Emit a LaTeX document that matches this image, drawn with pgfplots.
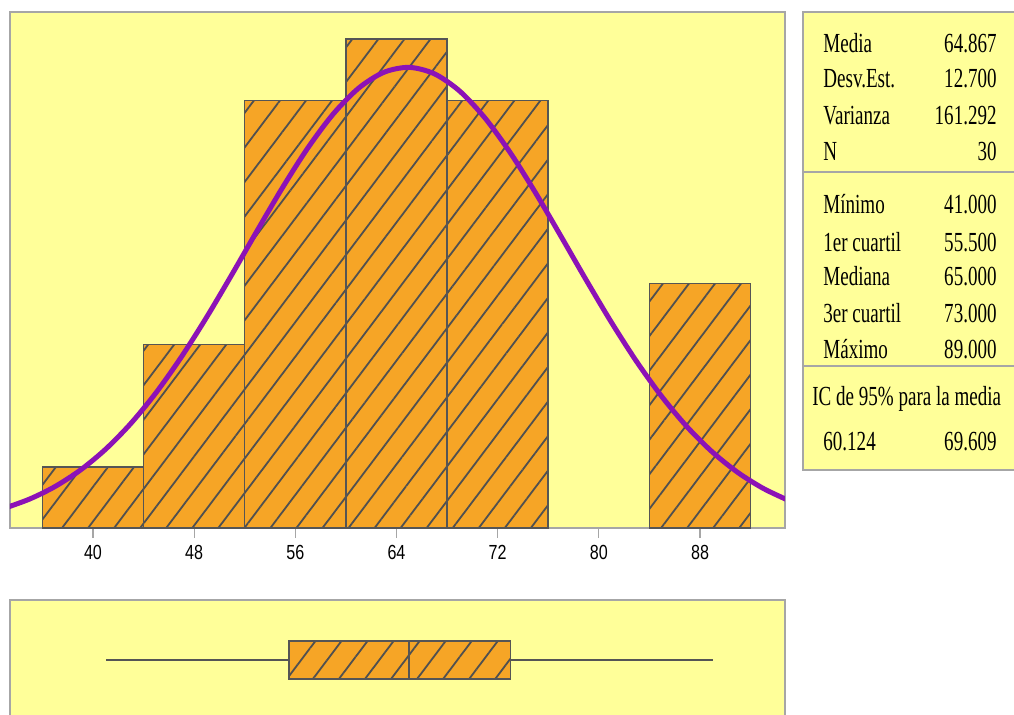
\documentclass[border=0pt]{standalone}
\usepackage{pgfplots}
\pgfplotsset{compat=1.18}
\usepgfplotslibrary{statistics}
\usetikzlibrary{patterns.meta}
\usepackage{graphicx}
\usepackage{fontspec}
\setmainfont{Liberation Serif}
\newfontfamily\ticksans{Liberation Sans}

\definecolor{bgyellow}{HTML}{FFFF99}
\definecolor{barorange}{HTML}{F6A526}
\definecolor{edgegray}{HTML}{555555}
\definecolor{hatchgray}{HTML}{505050}
\definecolor{framegray}{HTML}{A6A6A6}
\definecolor{curvepurple}{HTML}{8C12B6}

% narrow lettering for tick labels and the summary panel
\newcommand\sx[1]{\scalebox{0.79}[1]{#1}}
\newcommand\st[1]{\scalebox{0.69}[1]{#1}}

\tikzset{
  hatch/.style={postaction={pattern={Lines[angle=53,distance=10.4pt,line width=0.9pt]},pattern color=hatchgray}},
  statL/.style={anchor=base west,inner sep=0pt,font=\fontsize{13.8}{16}\selectfont},
  statR/.style={anchor=base east,inner sep=0pt,font=\fontsize{13.8}{16}\selectfont},
}

\begin{document}
\begin{tikzpicture}
\useasboundingbox (0,0) rectangle (507pt,-357pt);
\clip (0,0) rectangle (507pt,-357pt);

% histogram with fitted normal curve
\begin{axis}[
  at={(5pt,-6pt)}, anchor=north west,
  scale only axis, width=387.5pt, height=258pt,
  xmin=33.44, xmax=94.72, ymin=0, ymax=8.445,
  axis background/.style={fill=bgyellow},
  axis line style={framegray, line width=1pt},
  ytick=\empty,
  xtick={40,48,56,64,72,80,88},
  xticklabels={\sx{40},\sx{48},\sx{56},\sx{64},\sx{72},\sx{80},\sx{88}},
  xtick pos=bottom,
  tick align=outside, major tick length=5pt,
  tick style={framegray, line width=0.6pt},
  xticklabel style={font=\ticksans\fontsize{10.2}{12}\selectfont},
]
\addplot[ybar interval, fill=barorange, draw=edgegray, line width=0.75pt, hatch]
  coordinates {(36,1) (44,3) (52,7) (60,8) (68,7) (76,0)};
\addplot[ybar interval, fill=barorange, draw=edgegray, line width=0.75pt, hatch]
  coordinates {(84,4) (92,4)};
\addplot[smooth, line width=2.5pt, curvepurple] coordinates {
  (33,0.3237) (35,0.4747) (37,0.6788) (39,0.9474) (41,1.2894) (43,1.7122)
  (45,2.2178) (47,2.8025) (49,3.4544) (51,4.1537) (53,4.8722) (55,5.5750)
  (57,6.2229) (59,6.7761) (61,7.1976) (63,7.4581) (65,7.5387) (67,7.4335)
  (69,7.1503) (71,6.7094) (73,6.1414) (75,5.4839) (77,4.7767) (79,4.0589)
  (81,3.3645) (83,2.7205) (85,2.1459) (87,1.6512) (89,1.2395) (91,0.9076)
  (93,0.6483) (95,0.4517)};
\end{axis}

% box plot
\begin{axis}[
  at={(5pt,-300pt)}, anchor=north west,
  scale only axis, width=387.5pt, height=60pt,
  xmin=33.44, xmax=94.72, ymin=-1, ymax=1,
  axis background/.style={fill=bgyellow},
  axis line style={framegray, line width=1pt},
  xtick=\empty, ytick=\empty,
]
\addplot[draw=edgegray, line width=0.75pt,
  boxplot prepared={lower whisker=41, lower quartile=55.5, median=65,
    upper quartile=73, upper whisker=89, draw position=0,
    box extend=0.64, whisker extend=0, draw direction=x,
    every box/.style={fill=barorange, draw=edgegray, line width=0.75pt, hatch}},
] coordinates {};
\end{axis}

% summary panel
\draw[framegray, line width=1pt, fill=bgyellow] (401.5pt,-6pt) rectangle (515pt,-235pt);
\draw[framegray, line width=1pt] (401.5pt,-86pt) -- (515pt,-86pt);
\draw[framegray, line width=1pt] (401.5pt,-183pt) -- (515pt,-183pt);

\node[statL] at (411.5pt,-26pt) {\st{Media}};
\node[statR] at (498.5pt,-26pt) {\st{64.867}};
\node[statL] at (411.5pt,-43.5pt) {\st{Desv.Est.}};
\node[statR] at (498.5pt,-43.5pt) {\st{12.700}};
\node[statL] at (411.5pt,-62pt) {\st{Varianza}};
\node[statR] at (498.5pt,-62pt) {\st{161.292}};
\node[statL] at (411.5pt,-80pt) {\st{N}};
\node[statR] at (498.5pt,-80pt) {\st{30}};

\node[statL] at (411.5pt,-106.5pt) {\st{Mínimo}};
\node[statR] at (498.5pt,-106.5pt) {\st{41.000}};
\node[statL] at (411.5pt,-125.5pt) {\st{1er cuartil}};
\node[statR] at (498.5pt,-125.5pt) {\st{55.500}};
\node[statL] at (411.5pt,-142.5pt) {\st{Mediana}};
\node[statR] at (498.5pt,-142.5pt) {\st{65.000}};
\node[statL] at (411.5pt,-161pt) {\st{3er cuartil}};
\node[statR] at (498.5pt,-161pt) {\st{73.000}};
\node[statL] at (411.5pt,-179pt) {\st{Máximo}};
\node[statR] at (498.5pt,-179pt) {\st{89.000}};

\node[statL] at (406pt,-202.5pt) {\st{IC de 95\% para la media}};
\node[statL] at (411.5pt,-225pt) {\st{60.124}};
\node[statR] at (498.5pt,-225pt) {\st{69.609}};
\end{tikzpicture}
\end{document}
